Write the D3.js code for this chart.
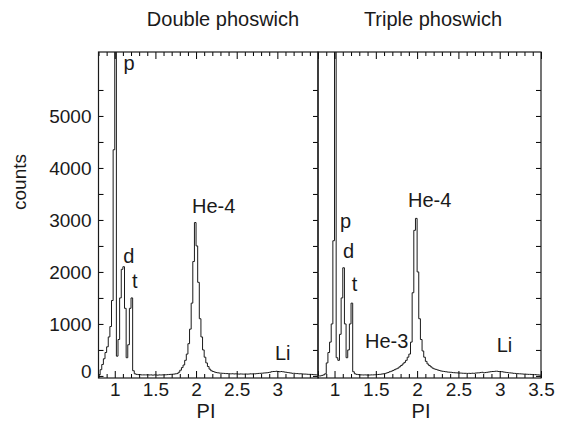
<!DOCTYPE html>
<html><head><meta charset="utf-8">
<script src="https://cdn.jsdelivr.net/npm/d3@7"></script>
<style>
body{margin:0;background:#fff}
text{font-family:"Liberation Sans",Arial,Helvetica,sans-serif;fill:#1a1a1a}
</style>
</head><body>
<svg id="chart" width="568" height="438"></svg>
<script>
// ---- data ----
const binStart = 0.80;
const binWidth = 0.02;
// counts per PI bin (0.80 .. 3.48, width 0.02), Double phoswich
const doubleCounts = [
  20, 120, 220, 330, 450, 560, 750, 950, 1450, 4350,
  6800, 380, 700, 1500, 2050, 2100, 1300, 350, 600, 1300,
  1500, 100, 40, 30, 25, 25, 20, 20, 20, 20,
  20, 18, 20, 15, 20, 18, 15, 20, 18, 20,
  20, 22, 25, 28, 30, 32, 35, 40, 45, 70,
  110, 160, 210, 300, 420, 620, 900, 1400, 2200, 2950,
  2500, 1800, 1100, 750, 500, 360, 250, 180, 130, 100,
  85, 75, 65, 60, 55, 52, 50, 48, 45, 45,
  42, 40, 42, 38, 40, 38, 35, 38, 36, 35,
  38, 35, 36, 40, 38, 42, 40, 45, 48, 50,
  52, 55, 58, 60, 65, 70, 80, 85, 85, 90,
  85, 80, 85, 80, 75, 70, 65, 60, 55, 50,
  50, 45, 45, 40, 42, 38, 35, 35, 32, 30,
  30, 28, 25, 22, 20
];
// counts per PI bin, Triple phoswich
const tripleCounts = [
  0, 0, 10, 20, 40, 250, 450, 650, 1000, 2600,
  6800, 350, 300, 800, 1500, 2080, 1000, 350, 500, 1000,
  1400, 80, 40, 30, 25, 20, 20, 18, 20, 18,
  15, 18, 20, 20, 22, 25, 28, 30, 35, 40,
  45, 55, 65, 80, 90, 105, 120, 135, 150, 175,
  200, 230, 260, 300, 360, 420, 650, 1600, 2800, 3030,
  2000, 1100, 700, 480, 360, 280, 230, 200, 175, 150,
  135, 125, 115, 105, 95, 90, 85, 80, 75, 72,
  70, 65, 62, 60, 58, 55, 55, 52, 50, 50,
  48, 50, 48, 52, 50, 55, 58, 60, 65, 70,
  60, 65, 70, 75, 80, 85, 85, 90, 90, 85,
  85, 80, 75, 70, 65, 60, 58, 55, 50, 48,
  45, 42, 40, 38, 35, 35, 32, 30, 30, 28,
  25, 25, 22, 20, 15
];
const panelTitles = ["Double phoswich", "Triple phoswich"];
const xTickValues = [1, 1.5, 2, 2.5, 3, 3.5];
const xLabelsLeft = [1, 1.5, 2, 2.5, 3];
const xLabelsRight = [1, 1.5, 2, 2.5, 3, 3.5];
const yTickValues = [0, 1000, 2000, 3000, 4000, 5000];
const xDomain = [0.8, 3.5];
const yDomain = [-40, 6230];
const peakNamesDouble = ["p", "d", "t", "He-4", "Li"];
const peakPIDouble = [1.107, 1.103, 1.213, 1.95, 2.97];
const peakCountDouble = [5890, 2165, 1690, 3130, 306];
const peakNamesTriple = ["p", "d", "t", "He-3", "He-4", "Li"];
const peakPITriple = [1.066, 1.103, 1.208, 1.369, 1.89, 2.963];
const peakCountTriple = [2845, 2267, 1633, 538, 3248, 460];

// ---- layout ----
const svg = d3.select("#chart");
const topY = 52, bottomY = 378;
const panels = [
  {x0: 98.5, x1: 318, counts: doubleCounts, title: panelTitles[0], titleX: 223, labels: xLabelsLeft,
   names: peakNamesDouble, pis: peakPIDouble, cs: peakCountDouble, piX: 206},
  {x0: 318, x1: 541, counts: tripleCounts, title: panelTitles[1], titleX: 433, labels: xLabelsRight,
   names: peakNamesTriple, pis: peakPITriple, cs: peakCountTriple, piX: 421}
];
const y = d3.scaleLinear().domain(yDomain).range([bottomY, topY]);
const minorX = d3.range(8, 36).map(v => v / 10).filter(v => Math.abs(v * 2 - Math.round(v * 2)) > 1e-6);
const minorY = d3.range(500, 6230, 1000);

svg.append("defs").selectAll("clipPath").data(panels).join("clipPath")
  .attr("id", (d, i) => "clip" + i)
  .append("rect").attr("x", d => d.x0).attr("y", topY).attr("width", d => d.x1 - d.x0).attr("height", bottomY - topY);

panels.forEach((p, i) => {
  const x = d3.scaleLinear().domain(xDomain).range([p.x0, p.x1]);
  const g = svg.append("g");

  // histogram
  const pts = p.counts.map((c, k) => [binStart + k * binWidth, c]);
  pts.push([binStart + p.counts.length * binWidth, p.counts[p.counts.length - 1]]);
  const line = d3.line().x(d => x(d[0])).y(d => y(d[1])).curve(d3.curveStepAfter);
  g.append("path").attr("d", line(pts)).attr("fill", "none")
    .attr("stroke", "#1a1a1a").attr("stroke-width", 1)
    .attr("clip-path", `url(#clip${i})`);

  // x axes (bottom & top), ticks inward
  const axB = d3.axisBottom(x).tickValues(xTickValues).tickSize(-7).tickPadding(5)
    .tickFormat(v => p.labels.includes(v) ? d3.format("")(v) : "");
  const gb = g.append("g").attr("transform", `translate(0,${bottomY})`).call(axB);
  gb.call(a => a.select(".domain").remove());
  gb.selectAll("text").style("font-size", "19px").attr("fill", "#1a1a1a");
  g.append("g").attr("transform", `translate(0,${bottomY})`)
    .call(d3.axisBottom(x).tickValues(minorX).tickSize(-4).tickFormat(""))
    .call(a => a.select(".domain").remove());
  g.append("g").attr("transform", `translate(0,${topY})`)
    .call(d3.axisTop(x).tickValues(xTickValues).tickSize(-7).tickFormat(""))
    .call(a => a.select(".domain").remove());
  g.append("g").attr("transform", `translate(0,${topY})`)
    .call(d3.axisTop(x).tickValues(minorX).tickSize(-4).tickFormat(""))
    .call(a => a.select(".domain").remove());

  // y ticks
  const allY = yTickValues.concat(minorY);
  if (i === 0) {
    const ga = g.append("g").attr("transform", `translate(${p.x0},0)`)
      .call(d3.axisLeft(y).tickValues(yTickValues).tickSize(-5).tickPadding(7).tickFormat(d3.format("")));
    ga.select(".domain").remove();
    ga.selectAll("text").style("font-size", "19px").attr("fill", "#1a1a1a");
    ga.selectAll(".tick").filter(d => d === 0).select("text").attr("dy", "0.1em");
    g.append("g").attr("transform", `translate(${p.x0},0)`)
      .call(d3.axisLeft(y).tickValues(minorY).tickSize(-5).tickFormat(""))
      .call(a => a.select(".domain").remove());
  } else {
    g.append("g").attr("transform", `translate(${p.x0},0)`)
      .call(d3.axisLeft(y).tickValues(allY).tickSize(-3).tickFormat(""))
      .call(a => a.select(".domain").remove())
      .selectAll("line").attr("stroke", "#aaa").attr("stroke-dasharray", "1,2");
  }
  g.append("g").attr("transform", `translate(${p.x1},0)`)
    .call(d3.axisRight(y).tickValues(allY).tickSize(-5).tickFormat(""))
    .call(a => a.select(".domain").remove());

  // frame
  g.append("rect").attr("x", p.x0).attr("y", topY).attr("width", p.x1 - p.x0).attr("height", bottomY - topY)
    .attr("fill", "none").attr("stroke", "#1a1a1a").attr("stroke-width", 1.2);

  // title & axis label
  svg.append("text").attr("x", p.titleX).attr("y", 26).attr("text-anchor", "middle")
    .style("font-size", "20px").text(p.title);
  svg.append("text").attr("x", p.piX).attr("y", 418).attr("text-anchor", "middle")
    .style("font-size", "20px").text("PI");

  // peak annotations
  g.selectAll("text.peak").data(p.names).join("text").attr("class", "peak")
    .attr("x", (d, k) => x(p.pis[k])).attr("y", (d, k) => y(p.cs[k]))
    .style("font-size", "20px").text(d => d);
});

svg.append("text").attr("transform", "translate(26,182) rotate(-90)").attr("text-anchor", "middle")
  .style("font-size", "19px").text("counts");
</script>
</body></html>
